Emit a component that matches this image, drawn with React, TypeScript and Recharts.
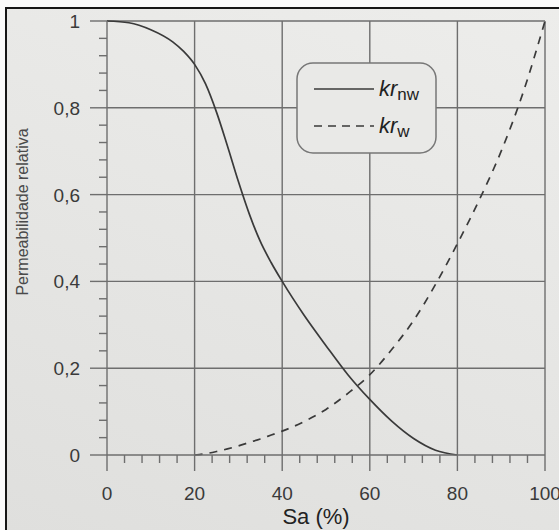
import { Legend, Line, LineChart, ReferenceLine, XAxis, YAxis } from "recharts";

const saturation = [0, 5, 10, 15, 17.5, 20, 22.5, 25, 27.5, 30, 32.5, 35, 37.5, 40, 45, 50, 55, 60, 65, 70, 75, 80, 85, 90, 95, 100];
const krNw = [1, 0.996, 0.98, 0.952, 0.93, 0.9, 0.855, 0.79, 0.712, 0.63, 0.555, 0.492, 0.443, 0.4, 0.322, 0.252, 0.185, 0.128, 0.078, 0.038, 0.011, 0, null, null, null, null];
const krW = [null, null, null, null, null, 0, 0.003, 0.008, 0.014, 0.021, 0.029, 0.037, 0.046, 0.055, 0.077, 0.105, 0.142, 0.185, 0.243, 0.31, 0.393, 0.487, 0.588, 0.7, 0.835, 1];

const xMajor = [0, 20, 40, 60, 80, 100];
const xLabels = ["0", "20", "40", "60", "80", "100"];
const yMajor = [0, 0.2, 0.4, 0.6, 0.8, 1];
const yLabels = ["0", "0,2", "0,4", "0,6", "0,8", "1"];
const minorSteps = 5;

const data = saturation.map((sa, i) => ({ sa, nw: krNw[i], w: krW[i] }));

// major ticks plus 4 minor ticks in between
const subdivide = (majors: number[]) =>
	majors.flatMap((m, i) =>
		i === majors.length - 1
			? [m]
			: Array.from({ length: minorSteps }, (_, k) => m + ((majors[i + 1] - m) * k) / minorSteps),
	);
const xTicks = subdivide(xMajor);
const yTicks = subdivide(yMajor);

const majorIndex = (list: number[], v: number) => list.findIndex((m) => Math.abs(m - v) < 1e-6);

const ink = "#3a3a3a";
const gridInk = "#6e6e6e";
const font = "'Liberation Sans', Arial, sans-serif";

function XTick({ x, y, payload }: any) {
	const idx = majorIndex(xMajor, payload.value);
	const major = idx >= 0;
	return (
		<g>
			<line x1={x} x2={x} y1={y} y2={y + (major ? 16 : 8)} stroke={gridInk} strokeWidth={1.4} />
			{major && (
				<text x={x} y={y + 45} textAnchor="middle" fontSize={19} fill={ink} fontFamily={font}>
					{xLabels[idx]}
				</text>
			)}
		</g>
	);
}

function YTick({ x, y, payload }: any) {
	const idx = majorIndex(yMajor, payload.value);
	const major = idx >= 0;
	return (
		<g>
			<line x1={x - (major ? 17 : 8)} x2={x} y1={y} y2={y} stroke={gridInk} strokeWidth={1.4} />
			{major && (
				<text x={x - 27} y={y + 7} textAnchor="end" fontSize={19} fill={ink} fontFamily={font}>
					{yLabels[idx]}
				</text>
			)}
		</g>
	);
}

function LegendBox() {
	return (
		<svg width={142} height={94} style={{ display: "block" }}>
			<rect x={1} y={1} width={139} height={90} rx={16} fill="#e9e9e7" stroke="#777" strokeWidth={1.5} />
			<line x1={18} x2={78} y1={27} y2={27} stroke={ink} strokeWidth={1.6} />
			<line x1={18} x2={78} y1={64} y2={64} stroke={ink} strokeWidth={1.6} strokeDasharray="8 6" />
			<text x={83} y={34} fontFamily={font} fill="#222">
				<tspan fontSize={22} fontStyle="italic">kr</tspan>
				<tspan fontSize={17} dy={4}>nw</tspan>
			</text>
			<text x={83} y={71} fontFamily={font} fill="#222">
				<tspan fontSize={22} fontStyle="italic">kr</tspan>
				<tspan fontSize={17} dy={4}>w</tspan>
			</text>
		</svg>
	);
}

export default function App() {
	return (
		<div style={{ position: "absolute", left: 0, top: 0, width: 559, height: 530, background: "#fafafa", overflow: "hidden" }}>
			<div
				style={{
					position: "absolute",
					left: 5,
					top: 7,
					right: -4,
					bottom: -4,
					borderLeft: "2px solid #161616",
					borderTop: "2px solid #161616",
					background: "linear-gradient(200deg, #ededeb 0%, #e6e6e4 50%, #dfdfdd 100%)",
				}}
			/>
			<div style={{ position: "absolute", left: 0, top: 0 }}>
				<LineChart width={559} height={530} data={data} margin={{ top: 21, right: 14, bottom: 0, left: 0 }}>
					{xMajor.slice(1).map((v) => (
						<ReferenceLine key={"x" + v} x={v} stroke={gridInk} strokeWidth={1.4} />
					))}
					{yMajor.slice(1).map((v) => (
						<ReferenceLine key={"y" + v} y={v} stroke={gridInk} strokeWidth={1.4} />
					))}
					<XAxis
						dataKey="sa"
						type="number"
						domain={[0, 100]}
						ticks={xTicks}
						interval={0}
						tickSize={0}
						tickMargin={0}
						tickLine={false}
						tick={<XTick />}
						axisLine={{ stroke: gridInk, strokeWidth: 1.4 }}
						height={75}
						label={({ viewBox }: any) => (
							<text
								x={viewBox.x + viewBox.width / 2 - 10}
								y={viewBox.y + 69}
								textAnchor="middle"
								fontSize={22}
								fill="#222"
								fontFamily={font}
							>
								Sa (%)
							</text>
						)}
					/>
					<YAxis
						type="number"
						domain={[0, 1]}
						ticks={yTicks}
						interval={0}
						tickSize={0}
						tickMargin={0}
						tickLine={false}
						tick={<YTick />}
						axisLine={{ stroke: gridInk, strokeWidth: 1.4 }}
						width={107}
						label={({ viewBox }: any) => {
							const cx = viewBox.x + 22;
							const cy = viewBox.y + viewBox.height / 2 - 26;
							return (
								<text
									x={cx}
									y={cy}
									transform={`rotate(-90 ${cx} ${cy})`}
									textAnchor="middle"
									dominantBaseline="central"
									fontSize={16}
									fill="#4a4a4a"
									fontFamily={font}
								>
									Permeabilidade relativa
								</text>
							);
						}}
					/>
					<Legend
						layout="vertical"
						align="center"
						verticalAlign="middle"
						wrapperStyle={{ left: 296, top: 62, width: 142, height: 94 }}
						content={() => <LegendBox />}
					/>
					<Line
						dataKey="nw"
						type="monotone"
						stroke={ink}
						strokeWidth={1.7}
						dot={false}
						activeDot={false}
						isAnimationActive={false}
					/>
					<Line
						dataKey="w"
						type="monotone"
						stroke={ink}
						strokeWidth={1.7}
						strokeDasharray="8 7"
						dot={false}
						activeDot={false}
						isAnimationActive={false}
					/>
				</LineChart>
			</div>
		</div>
	);
}
